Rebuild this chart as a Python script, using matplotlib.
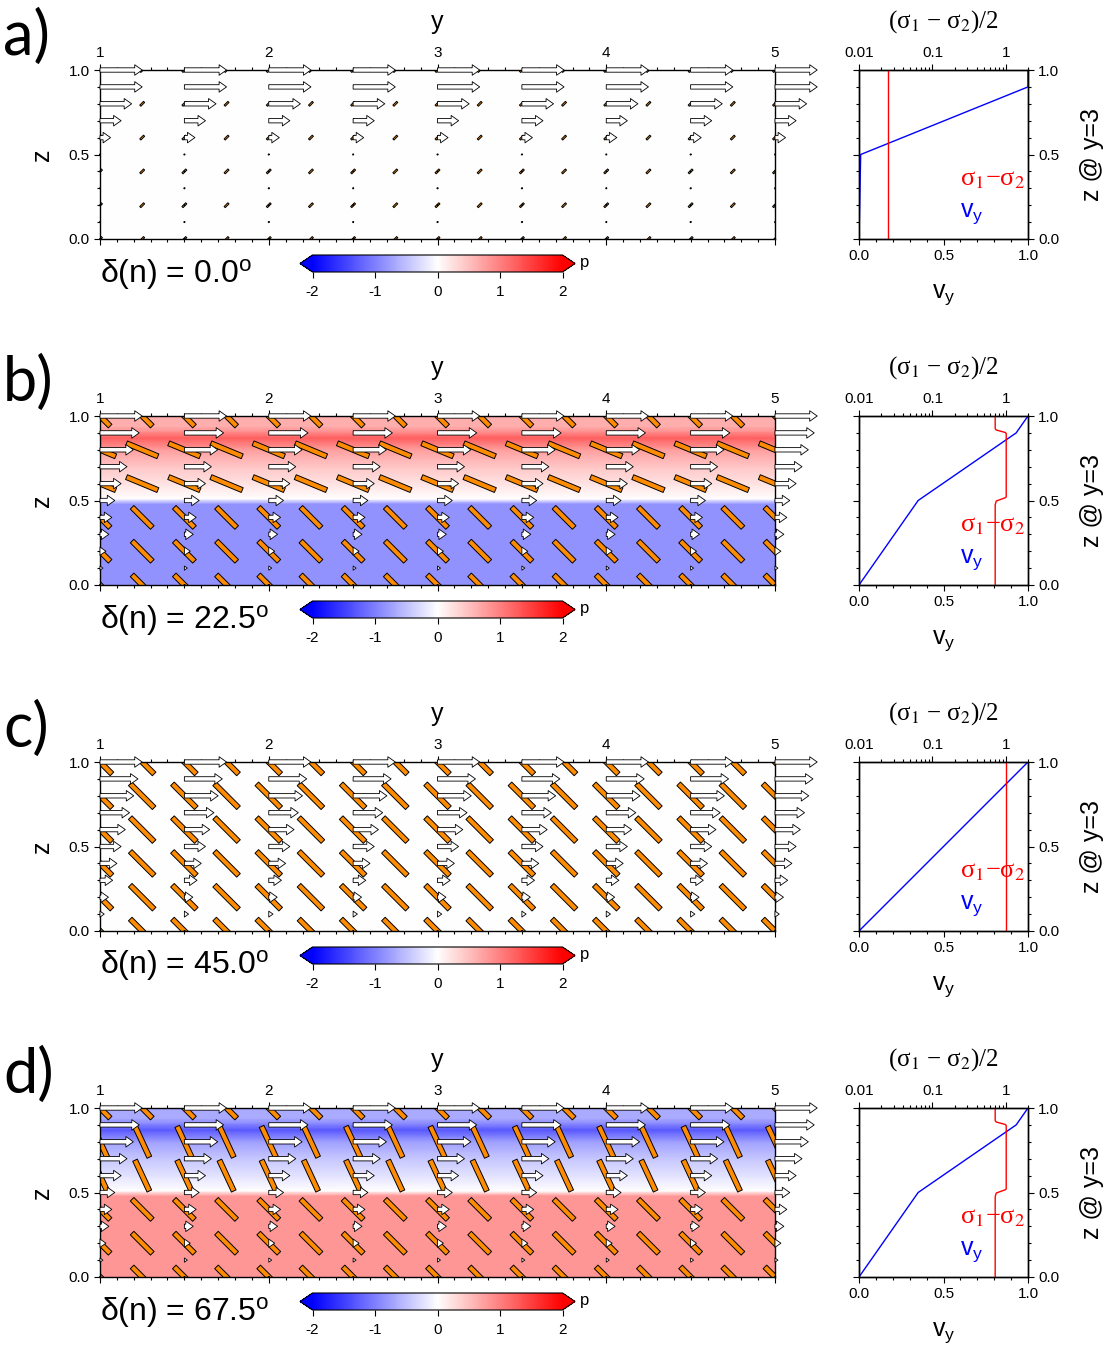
import numpy as np
import matplotlib.pyplot as plt
from matplotlib.colors import LinearSegmentedColormap, Normalize
from matplotlib.collections import PolyCollection
from matplotlib.ticker import (MultipleLocator, FixedLocator, LogLocator,
                               NullFormatter, FormatStrFormatter, FuncFormatter)

plt.rcParams['font.family'] = ['Liberation Sans', 'DejaVu Sans']
plt.rcParams['mathtext.fontset'] = 'custom'
plt.rcParams['mathtext.rm'] = 'Liberation Sans'
plt.rcParams['mathtext.it'] = 'Liberation Sans:italic'
plt.rcParams['mathtext.bf'] = 'Liberation Sans:bold'
plt.rcParams['axes.unicode_minus'] = False
plt.rcParams['axes.linewidth'] = 1.0

# panel labels and anisotropy angle
letters = ['a)', 'b)', 'c)', 'd)']
delta_n = [0.0, 22.5, 45.0, 67.5]

# pressure profile (same along y), nodes in z
p_z = [0.00, 0.48, 0.51, 0.60, 0.70, 0.80, 0.87, 0.91, 0.94, 1.00]
p_a = [0.0, 0.0, 0.0, 0.0, 0.0, 0.0, 0.0, 0.0, 0.0, 0.0]
p_b = [-0.85, -0.85, 0.00, 0.22, 0.45, 0.75, 1.25, 0.85, 0.63, 0.63]
p_c = [0.0, 0.0, 0.0, 0.0, 0.0, 0.0, 0.0, 0.0, 0.0, 0.0]
p_d = [0.82, 0.82, 0.00, -0.22, -0.45, -0.75, -1.30, -0.90, -0.67, -0.67]

# velocity vectors
arrow_y = [1.0, 1.5, 2.0, 2.5, 3.0, 3.5, 4.0, 4.5, 5.0]
arrow_z = [0.0, 0.1, 0.2, 0.3, 0.4, 0.5, 0.6, 0.7, 0.8, 0.9, 1.0]
arr_a = [0.0, 0.002, 0.004, 0.006, 0.008, 0.01, 0.25, 0.50, 0.75, 1.0, 1.0]
arr_b = [0.0, 0.07, 0.14, 0.21, 0.28, 0.35, 0.50, 0.64, 0.79, 0.93, 1.0]
arr_c = [0.0, 0.10, 0.20, 0.30, 0.40, 0.50, 0.60, 0.70, 0.80, 0.90, 1.0]
arr_d = [0.0, 0.07, 0.14, 0.21, 0.28, 0.35, 0.50, 0.64, 0.79, 0.93, 1.0]

# stress orientation bars (angle from +y, deg) and (s1-s2)/2 per row
bar_y = [1.0, 1.25, 1.5, 1.75, 2.0, 2.25, 2.5, 2.75, 3.0,
         3.25, 3.5, 3.75, 4.0, 4.25, 4.5, 4.75, 5.0]
bar_z = [0.0, 0.2, 0.4, 0.6, 0.8, 1.0]
ang_a = [45, 45, 45, 45, 45, 45]
ang_b = [-45, -45, -45, -22.5, -22.5, -45]
ang_c = [-45, -45, -45, -45, -45, -45]
ang_d = [-45, -45, -45, -65, -65, -45]
bsig_a = [0.025, 0.025, 0.025, 0.025, 0.025, 0.025]
bsig_b = [0.715, 0.715, 0.715, 1.01, 1.01, 0.715]
bsig_c = [1.0, 1.0, 1.0, 1.0, 1.0, 1.0]
bsig_d = [0.715, 0.715, 0.715, 1.01, 1.01, 0.715]

# profiles at y=3
vy_z = [0.0, 0.5, 0.9, 1.0]
vy_a = [0.0, 0.01, 1.0, 1.0]
vy_b = [0.0, 0.35, 0.93, 1.0]
vy_c = [0.0, 0.5, 0.9, 1.0]
vy_d = [0.0, 0.35, 0.93, 1.0]

sig_z = [0.0, 0.475, 0.497, 0.517, 0.522, 0.895, 0.902, 0.917, 0.925, 1.0]
sig_a = [0.025] * 10
sig_b = [0.715, 0.715, 0.74, 0.99, 1.01, 1.01, 0.99, 0.74, 0.715, 0.715]
sig_c = [1.0] * 10
sig_d = [0.715, 0.715, 0.74, 0.99, 1.01, 1.01, 0.99, 0.74, 0.715, 0.715]

p_all = [p_a, p_b, p_c, p_d]
arr_all = [arr_a, arr_b, arr_c, arr_d]
ang_all = [ang_a, ang_b, ang_c, ang_d]
bsig_all = [bsig_a, bsig_b, bsig_c, bsig_d]
vy_all = [vy_a, vy_b, vy_c, vy_d]
sig_all = [sig_a, sig_b, sig_c, sig_d]

W, H = 1112, 1350
fig = plt.figure(figsize=(W / 100, H / 100), dpi=100)


def frac(x0, y0, w, h):
    return [x0 / W, 1 - (y0 + h) / H, w / W, h / H]


cmap = LinearSegmentedColormap.from_list('polar', ['#0000ff', '#ffffff', '#ff0000'])
norm = Normalize(-2, 2)
serif = ['Liberation Serif', 'DejaVu Serif']

for k in range(4):
    off = 346 * k

    # ---- main section panel
    ax = fig.add_axes(frac(100, 70 + off, 675, 169))
    yy, zz = np.meshgrid([1.0, 5.0], p_z)
    pp = np.repeat(np.array(p_all[k])[:, None], 2, axis=1)
    mesh = ax.pcolormesh(yy, zz, pp, shading='gouraud', cmap=cmap, norm=norm, zorder=0)

    polys = []
    for zi, ang, s in zip(bar_z, ang_all[k], bsig_all[k]):
        L = 0.2 * np.sqrt(s)
        w = min(0.03, 0.3 * L)
        t = np.deg2rad(ang)
        d = np.array([np.cos(t), np.sin(t)]) * L / 2
        n = np.array([-np.sin(t), np.cos(t)]) * w / 2
        for yi in bar_y:
            c = np.array([yi, zi])
            polys.append([c - d - n, c + d - n, c + d + n, c - d + n])
    ax.add_collection(PolyCollection(polys, facecolor='darkorange', edgecolor='black',
                                     linewidth=0.7, zorder=2))

    AY, AZ = np.meshgrid(arrow_y, arrow_z)
    U = np.repeat(np.array(arr_all[k])[:, None], len(arrow_y), axis=1)
    ax.quiver(AY, AZ, U, np.zeros_like(U), angles='xy', scale_units='xy', scale=4,
              units='xy', width=0.026, headwidth=2.4, headlength=1.7, headaxislength=1.7,
              minlength=0.3, pivot='tail', facecolor='white', edgecolor='black',
              linewidth=0.6, zorder=3, clip_on=False)

    ax.set_xlim(1, 5)
    ax.set_ylim(0, 1)
    ax.xaxis.set_major_locator(MultipleLocator(1))
    ax.xaxis.set_minor_locator(MultipleLocator(0.1))
    ax.yaxis.set_major_locator(MultipleLocator(0.5))
    ax.yaxis.set_minor_locator(MultipleLocator(0.1))
    ax.xaxis.set_major_formatter(FormatStrFormatter('%d'))
    ax.yaxis.set_major_formatter(FormatStrFormatter('%.1f'))
    ax.tick_params(which='both', direction='out', top=True, bottom=True, left=True,
                   right=False, labeltop=True, labelbottom=False, labelsize=11, pad=3,
                   width=0.8)
    ax.tick_params(which='major', length=4.3)
    ax.tick_params(which='minor', length=2.2)
    ax.xaxis.set_label_position('top')
    ax.set_xlabel('y', fontsize=18, va='center')
    ax.xaxis.set_label_coords(0.5, 1.284)
    ax.set_ylabel('z', fontsize=18, va='center')
    ax.yaxis.set_label_coords(-0.086, 0.5)

    # ---- colorbar (axes shrinks to the body, triangles drawn outside)
    cax = fig.add_axes(frac(300, 255 + off, 275, 17))
    cb = fig.colorbar(mesh, cax=cax, orientation='horizontal', extend='both',
                      ticks=[-2, -1, 0, 1, 2])
    cb.outline.set_linewidth(0.8)
    cax.tick_params(labelsize=11, length=4, width=0.8, direction='out', pad=5)
    cax.text(1.07, 0.55, 'p', transform=cax.transAxes, fontsize=12, va='center')

    fig.text(3 / W, 1 - (37 + off) / H, letters[k], fontsize=44, family='Lato',
             va='center')
    fig.text(100 / W, 1 - (274 + off) / H,
             'δ(n) = %.1f$^\\mathrm{o}$' % delta_n[k], fontsize=23, va='center')

    # ---- profile at y=3
    axr = fig.add_axes(frac(859, 70 + off, 169, 169))
    axr.plot(vy_all[k], vy_z, color='blue', lw=1.0, zorder=3)
    axr.set_xlim(0, 1)
    axr.set_ylim(0, 1)
    for a in (axr.xaxis, axr.yaxis):
        a.set_major_locator(MultipleLocator(0.5))
        a.set_minor_locator(MultipleLocator(0.1))
        a.set_major_formatter(FormatStrFormatter('%.1f'))
    axr.tick_params(which='both', direction='out', top=False, bottom=True, left=True,
                    right=True, labelleft=False, labelright=True, labelsize=11, pad=3,
                    width=0.8)
    axr.tick_params(which='major', length=4.3)
    axr.tick_params(which='minor', length=2.2)
    axr.set_xlabel('v$_\\mathrm{y}$', fontsize=18, va='center')
    axr.xaxis.set_label_coords(0.5, -0.33)
    axr.yaxis.set_label_position('right')
    axr.set_ylabel('z @ y=3', fontsize=18, va='center')
    axr.yaxis.set_label_coords(1.38, 0.5)
    axr.text(0.6, 0.35, 'σ$_\\mathrm{1}$−σ$_\\mathrm{2}$', color='red', fontsize=19,
             family=serif, math_fontfamily='stix', va='center')
    axr.text(0.6, 0.15, 'v$_\\mathrm{y}$', color='blue', fontsize=18, va='center')

    axt = axr.twiny()
    axt.set_xscale('log')
    axt.plot(sig_all[k], sig_z, color='red', lw=1.0, zorder=2)
    axt.set_xlim(0.01, 2.0)
    axt.set_ylim(0, 1)
    axt.xaxis.set_major_locator(FixedLocator([0.01, 0.1, 1]))
    axt.xaxis.set_minor_locator(LogLocator(base=10, subs=np.arange(2, 10)))
    axt.xaxis.set_major_formatter(FuncFormatter(lambda v, _: '%g' % v))
    axt.xaxis.set_minor_formatter(NullFormatter())
    axt.tick_params(which='both', direction='out', labelsize=11, pad=3, width=0.8)
    axt.tick_params(which='major', length=4.3)
    axt.tick_params(which='minor', length=2.2)
    axt.set_xlabel('(σ$_\\mathrm{1}$ − σ$_\\mathrm{2}$)/2', fontsize=18, family=serif,
                   math_fontfamily='stix', va='center')
    axt.xaxis.set_label_coords(0.5, 1.284)

fig.savefig('out.png', dpi=100)
